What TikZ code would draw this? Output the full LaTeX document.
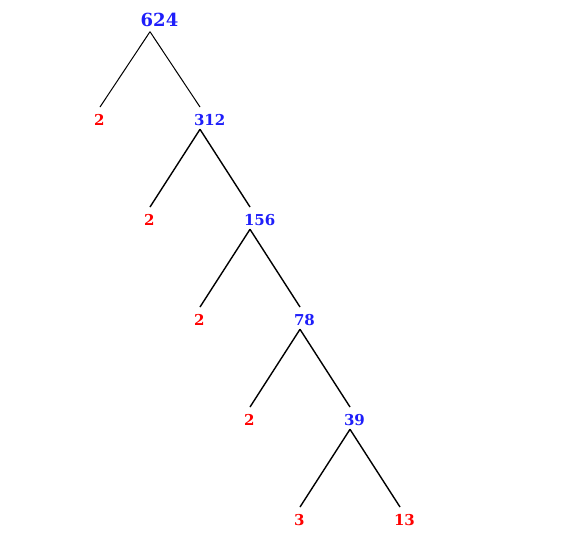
\documentclass[tikz,border=0pt]{standalone}
\usepackage{fontspec}
\setmainfont{DejaVu Serif}
\definecolor{numblue}{RGB}{30,30,250}
\begin{document}
\begin{tikzpicture}[x=1pt, y=-1pt]
\tikzstyle{num_style} = [font=\fontsize{15}{15}\selectfont\bfseries, anchor=base west, inner xsep=0pt, inner ysep=3.8pt, outer xsep=-6pt, outer ysep=0pt, text height=14.7pt, text depth=0pt]
\tikzstyle{comp_style} = [num_style, text=numblue]
\tikzstyle{prime_style} = [num_style, text=red]
\tikzstyle{root_style} = [comp_style, font=\fontsize{18}{18}\selectfont\bfseries, outer xsep=-9.3pt, inner ysep=5.7pt, text height=13pt]
\tikzstyle{edge_style} = [draw=black, line width=1.4pt]
\tikzstyle{root_edge_style} = [edge_style, line width=1pt]

\useasboundingbox (0,0) rectangle (575,550);

\node[root_style] (n624) at (150,26) {624};
\node[prime_style] (d1) at (100,125.5) {2};
\node[comp_style] (n312) at (200,125.5) {312};
\node[prime_style] (d2) at (150,225.5) {2};
\node[comp_style] (n156) at (250,225.5) {156};
\node[prime_style] (d3) at (200,325.5) {2};
\node[comp_style] (n78) at (300,325.5) {78};
\node[prime_style] (d4) at (250,425.5) {2};
\node[comp_style] (n39) at (350,425.5) {39};
\node[prime_style] (n3) at (300,525.5) {3};
\node[prime_style] (n13) at (400,525.5) {13};

\draw[root_edge_style]  (n624.south west) -- (d1.north west);
\draw[root_edge_style]  (n624.south west) -- (n312.north west);
\draw[edge_style]  (n312.south west) -- (d2.north west);
\draw[edge_style]  (n312.south west) -- (n156.north west);
\draw[edge_style]  (n156.south west) -- (d3.north west);
\draw[edge_style]  (n156.south west) -- (n78.north west);
\draw[edge_style]  (n78.south west) -- (d4.north west);
\draw[edge_style]  (n78.south west) -- (n39.north west);
\draw[edge_style]  (n39.south west) -- (n3.north west);
\draw[edge_style]  (n39.south west) -- (n13.north west);
\end{tikzpicture}
\end{document}
